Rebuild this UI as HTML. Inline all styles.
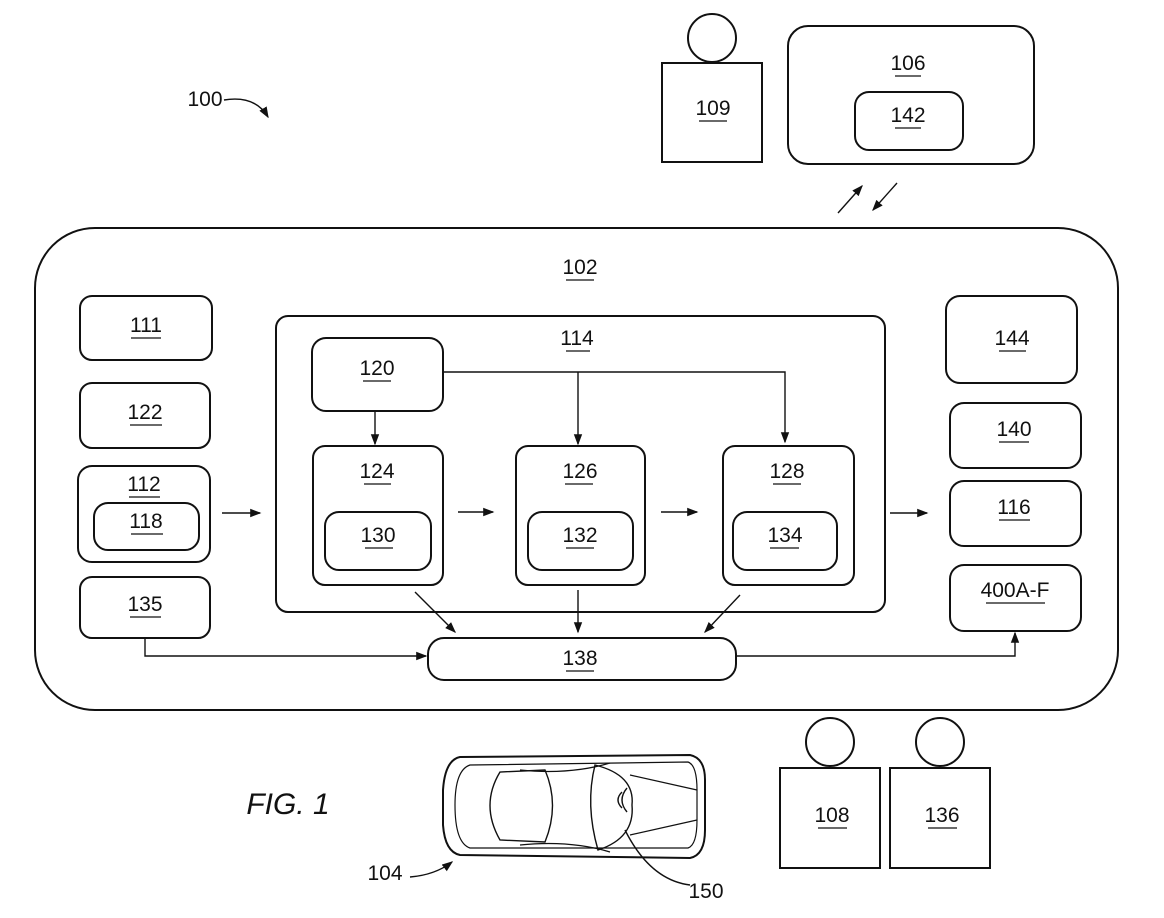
<!DOCTYPE html>
<html><head><style>body{margin:0;background:#fff}svg{display:block}text{font-family:"Liberation Sans Narrow","Liberation Sans",sans-serif;font-size:21px;text-anchor:middle;fill:#111}</style></head><body>
<svg width="1164" height="918" viewBox="0 0 1164 918" xmlns="http://www.w3.org/2000/svg">
<defs><marker id="a" markerWidth="8" markerHeight="8" refX="7" refY="4" orient="auto"><path d="M0,1 L8,4 L0,7z" fill="#111"/></marker></defs>
<g fill="none" stroke="#111" stroke-width="2">
<rect x="35" y="228" width="1083" height="482" rx="60"/>
<rect x="80" y="296" width="132" height="64" rx="12"/>
<rect x="80" y="383" width="130" height="65" rx="12"/>
<rect x="78" y="466" width="132" height="96" rx="14"/>
<rect x="94" y="503" width="105" height="47" rx="14"/>
<rect x="80" y="577" width="130" height="61" rx="12"/>
<rect x="276" y="316" width="609" height="296" rx="12"/>
<rect x="312" y="338" width="131" height="73" rx="14"/>
<rect x="313" y="446" width="130" height="139" rx="12"/>
<rect x="325" y="512" width="106" height="58" rx="14"/>
<rect x="516" y="446" width="129" height="139" rx="12"/>
<rect x="528" y="512" width="105" height="58" rx="14"/>
<rect x="723" y="446" width="131" height="139" rx="12"/>
<rect x="733" y="512" width="104" height="58" rx="14"/>
<rect x="946" y="296" width="131" height="87" rx="14"/>
<rect x="950" y="403" width="131" height="65" rx="14"/>
<rect x="950" y="481" width="131" height="65" rx="14"/>
<rect x="950" y="565" width="131" height="66" rx="14"/>
<rect x="428" y="638" width="308" height="42" rx="16"/>
<rect x="662" y="63" width="100" height="99"/>
<circle cx="712" cy="38" r="24"/>
<rect x="788" y="26" width="246" height="138" rx="20"/>
<rect x="855" y="92" width="108" height="58" rx="14"/>
<rect x="780" y="768" width="100" height="100"/>
<circle cx="830" cy="742" r="24"/>
<rect x="890" y="768" width="100" height="100"/>
<circle cx="940" cy="742" r="24"/>
</g>
<g fill="none" stroke="#111" stroke-width="1.4">
<path d="M375,411 V444" marker-end="url(#a)"/>
<path d="M443,372 H785 V442" marker-end="url(#a)"/>
<path d="M578,372 V444" marker-end="url(#a)"/>
<path d="M458,512 H493" marker-end="url(#a)"/>
<path d="M661,512 H697" marker-end="url(#a)"/>
<path d="M222,513 H260" marker-end="url(#a)"/>
<path d="M890,513 H927" marker-end="url(#a)"/>
<path d="M415,592 L455,632" marker-end="url(#a)"/>
<path d="M578,590 V632" marker-end="url(#a)"/>
<path d="M740,595 L705,632" marker-end="url(#a)"/>
<path d="M145,638 V656 H426" marker-end="url(#a)"/>
<path d="M736,656 H1015 V633" marker-end="url(#a)"/>
<path d="M838,213 L862,186" marker-end="url(#a)"/>
<path d="M897,183 L873,210" marker-end="url(#a)"/>
<path d="M224,100 Q255,95 268,117" marker-end="url(#a)"/>
<path d="M410,877 Q435,875 452,862" marker-end="url(#a)"/>
<path d="M625,830 Q650,880 690,885"/>
</g>
<g fill="none" stroke="#111" stroke-width="2">
<path d="M460,757 Q445,760 443,790 V825 Q445,852 460,855 L690,858 Q705,855 705,830 V780 Q705,758 690,755 Z"/>
<path d="M470,765 Q455,770 455,805 Q455,843 470,848 L688,848 Q697,845 697,820 V790 Q697,765 688,762 Z" stroke-width="1.2"/>
<path d="M500,772 Q480,805 500,840 L545,842 Q560,805 545,770 Z" stroke-width="1.4"/>
<path d="M595,765 Q585,805 598,850 Q635,838 632,805 Q635,775 595,765 Z" stroke-width="1.4"/>
<path d="M520,770 Q570,775 610,763 M520,845 Q570,840 610,852 M630,775 L697,790 M630,835 L697,820" stroke-width="1.2"/>
<path d="M622,792 Q614,800 622,808 M627,788 Q617,800 627,812" stroke-width="1.4"/>
</g>
<g>
<text x="580" y="274">102</text><text x="146" y="332">111</text><text x="145" y="419">122</text>
<text x="144" y="491">112</text><text x="146" y="528">118</text><text x="145" y="611">135</text>
<text x="577" y="345">114</text><text x="377" y="375">120</text><text x="377" y="478">124</text><text x="378" y="542">130</text>
<text x="580" y="478">126</text><text x="580" y="542">132</text><text x="787" y="478">128</text><text x="785" y="542">134</text>
<text x="1012" y="345">144</text><text x="1014" y="436">140</text><text x="1014" y="514">116</text><text x="1015" y="597">400A-F</text>
<text x="580" y="665">138</text><text x="713" y="115">109</text><text x="908" y="70">106</text><text x="908" y="122">142</text>
<text x="832" y="822">108</text><text x="942" y="822">136</text>
<text x="205" y="106">100</text><text x="385" y="880">104</text><text x="706" y="898">150</text>
<text x="288" y="814" style="font-size:30px;font-style:italic">FIG. 1</text>
</g>
<g stroke="#111" stroke-width="1.3">
<path d="M566,280H594M566,351H590M131,338H161M130,425H162M129,497H160M131,534H163M130,617H161M363,381H391M364,484H391M365,548H393M565,484H593M566,548H594M773,484H801M770,548H799M999,351H1026M999,442H1029M999,520H1030M986,603H1045M566,671H594M699,121H727M895,76H921M895,128H921M818,828H847M928,828H957"/>
</g>
</svg>
</body></html>
